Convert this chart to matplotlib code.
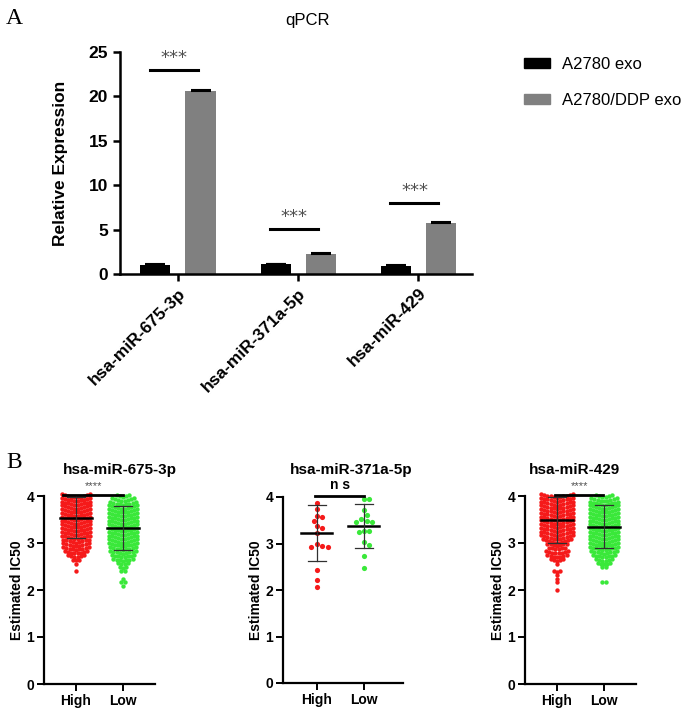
import numpy as np
import matplotlib.pyplot as plt
from matplotlib.patches import Patch

plt.rcParams['font.family'] = ['Liberation Sans', 'DejaVu Sans']

# ---- panel A: qPCR ----
mirnas = ['hsa-miR-675-3p', 'hsa-miR-371a-5p', 'hsa-miR-429']
exo = [1.05, 1.08, 0.93]
exo_err = [0.06, 0.08, 0.07]
ddp = [20.6, 2.25, 5.75]
ddp_err = [0.10, 0.10, 0.08]
sig_y = [23.0, 5.1, 8.0]

# ---- panel B: estimated IC50 ----
groups = ['High', 'Low']
# dense groups: counts of points per value row
row_vals = [4.00, 3.92, 3.84, 3.76, 3.68, 3.60, 3.52, 3.44, 3.36, 3.28, 3.20, 3.12, 3.04,
            2.96, 2.88, 2.80, 2.72, 2.64, 2.56, 2.48, 2.40, 2.32, 2.24, 2.16, 2.08, 2.00]
high_675 = [10, 10, 10, 10, 10, 10, 10, 10, 10, 10, 10, 10, 9, 9, 9, 8, 6, 3, 1, 0, 1, 0, 0, 0, 0, 0]
low_675 = [5, 8, 9, 10, 10, 10, 10, 10, 10, 10, 10, 10, 10, 10, 9, 9, 8, 7, 4, 3, 2, 0, 1, 2, 1, 0]
high_429 = [11, 11, 11, 11, 11, 11, 11, 11, 11, 11, 11, 11, 10, 7, 6, 8, 7, 5, 1, 0, 3, 1, 1, 1, 0, 1]
low_429 = [6, 9, 10, 10, 10, 10, 10, 10, 10, 10, 10, 10, 10, 10, 10, 9, 8, 6, 5, 2, 0, 0, 0, 2, 0, 0]
# sparse group: single values
high_371 = [3.88, 3.74, 3.60, 3.58, 3.49, 3.38, 3.33, 3.22, 3.00, 2.95, 2.93, 2.92, 2.42, 2.21, 2.06]
low_371 = [3.95, 3.95, 3.72, 3.61, 3.52, 3.48, 3.47, 3.46, 3.27, 3.26, 3.24, 3.04, 2.97, 2.74, 2.48]
# mean and SD lines as drawn
mean_675 = [3.54, 3.32]
sd_675 = [0.44, 0.47]
mean_371 = [3.22, 3.38]
sd_371 = [0.60, 0.475]
mean_429 = [3.49, 3.35]
sd_429 = [0.48, 0.465]

RED = '#f51a1a'
GREEN = '#3ae83a'

fig = plt.figure(figsize=(6.85, 7.12), dpi=100)

# ================= panel A =================
ax = fig.add_axes([0.1752, 0.6152, 0.514, 0.3118])
x = np.arange(len(mirnas))
w = 0.25
off = 0.1875
ax.bar(x - off, exo, w, color='black', label='A2780 exo',
       yerr=[np.zeros(3), exo_err], capsize=7, error_kw=dict(lw=1.2, capthick=1.5))
ax.bar(x + off, ddp, w, color='#808080', label='A2780/DDP exo',
       yerr=[np.zeros(3), ddp_err], capsize=7, error_kw=dict(lw=1.2, capthick=1.5))
for i in range(3):
    ax.plot([x[i] - 0.23, x[i] + 0.17], [sig_y[i], sig_y[i]], color='black', lw=2.2)
    ax.text(x[i] - 0.03, sig_y[i] + 0.3, '***', ha='center', va='bottom', fontsize=13,
            color='#505050', family='DejaVu Sans')
ax.set_xlim(-0.483, 2.45)
ax.set_ylim(0, 25)
ax.set_yticks([0, 5, 10, 15, 20, 25])
ax.set_xticks(x)
ax.set_xticklabels(mirnas, rotation=45, ha='right', va='top', rotation_mode='anchor',
                   fontsize=12.5, fontweight='bold')
for lab in ax.get_yticklabels():
    lab.set_fontweight('bold')
    lab.set_fontsize(12.5)
ax.spines['top'].set_visible(False)
ax.spines['right'].set_visible(False)
ax.spines['left'].set_linewidth(1.8)
ax.spines['bottom'].set_linewidth(1.8)
ax.tick_params(width=1.8, length=5)
ax.set_ylabel('Relative Expression', fontsize=12.5, fontweight='bold', labelpad=15)

fig.text(308 / 685, 1 - 20 / 712, 'qPCR', ha='center', va='center', fontsize=12)
handles = [Patch(color='black'), Patch(color='#808080')]
fig.legend(handles, ['A2780 exo', 'A2780/DDP exo'], loc='upper left',
           bbox_to_anchor=(524 / 685, 1 - 57 / 712), frameon=False, fontsize=12,
           handlelength=1.55, handleheight=0.6, handletextpad=0.75, labelspacing=1.25,
           borderpad=0, borderaxespad=0)

fig.text(6 / 685, 1 - 18 / 712, 'A', fontsize=17, family='Liberation Serif', va='center')
fig.text(6 / 685, 1 - 463 / 712, 'B', fontsize=17, family='Liberation Serif', va='center')


# ================= panel B =================
def rows_to_points(rows, counts, center, dx=0.068, tilt=0.25):
    xs, ys = [], []
    for v, n in zip(rows, counts):
        if n == 0:
            continue
        offs = (np.arange(n) - (n - 1) / 2) * dx
        half = (n - 1) / 2 * dx
        xs.extend(center + offs)
        ys.extend(v + tilt * (np.abs(offs) - half / 2))
    return np.array(xs), np.array(ys)


def swarm_x(vals, center, d=0.115):
    placed = []
    xs = []
    cands = [0.0]
    for k in range(1, 30):
        cands += [k * d / 2, -k * d / 2]
    for v in vals:
        for c in cands:
            if all((c - px) ** 2 + (v - py) ** 2 >= d * d for px, py in placed):
                break
        placed.append((c, v))
        xs.append(center + c)
    return np.array(xs)


def style_b(ax, xlim):
    ax.set_xlim(*xlim)
    ax.set_ylim(0, 4)
    ax.set_yticks([0, 1, 2, 3, 4])
    ax.set_xticks([0, 1])
    ax.set_xticklabels(groups, fontsize=10, fontweight='bold')
    for lab in ax.get_yticklabels():
        lab.set_fontweight('bold')
        lab.set_fontsize(10)
    ax.spines['top'].set_visible(False)
    ax.spines['right'].set_visible(False)
    ax.spines['left'].set_linewidth(1.6)
    ax.spines['bottom'].set_linewidth(1.6)
    ax.tick_params(width=1.4, length=5, pad=2)
    ax.set_ylabel('Estimated IC50', fontsize=10, fontweight='bold', labelpad=2)


def mean_sd(ax, means, sds):
    for i, (m, s) in enumerate(zip(means, sds)):
        ax.plot([i - 0.33, i + 0.33], [m, m], color='black', lw=1.8, zorder=4, clip_on=False)
        ax.plot([i, i], [m - s, m + s], color='#303030', lw=0.9, zorder=4, clip_on=False)
        for e in (m - s, m + s):
            ax.plot([i - 0.19, i + 0.19], [e, e], color='#303030', lw=0.9, zorder=4, clip_on=False)


def sig(ax, x0, x1, txt, size, color, weight):
    ax.plot([x0, x1], [4.03, 4.03], color='black', lw=2, clip_on=False)
    ax.text((x0 + x1) / 2 + 0.02, 4.1, txt, ha='center', va='bottom', fontsize=size,
            color=color, fontweight=weight)


H = 712.0
W = 685.0
bot = 1 - 684 / H
hgt = (684 - 496) / H

# hsa-miR-675-3p
ax1 = fig.add_axes([44 / W, bot, 111 / W, hgt])
for i, (cnt, col) in enumerate([(high_675, RED), (low_675, GREEN)]):
    px, py = rows_to_points(row_vals, cnt, i)
    ax1.scatter(px, py, s=10, color=col, lw=0, zorder=2, clip_on=False)
mean_sd(ax1, mean_675, sd_675)
style_b(ax1, (-0.68, 1.68))
sig(ax1, -0.28, 1.0, '****', 8, '#505050', 'normal')
fig.text(120 / W, 1 - 470 / H, 'hsa-miR-675-3p', ha='center', va='center', fontsize=11,
         fontweight='bold')

# hsa-miR-371a-5p
ax2 = fig.add_axes([283 / W, 1 - 683 / H, 120 / W, (683 - 497) / H])
for i, (vals, col) in enumerate([(high_371, RED), (low_371, GREEN)]):
    ax2.scatter(swarm_x(vals, i), vals, s=14, color=col, lw=0, zorder=2, clip_on=False)
mean_sd(ax2, mean_371, sd_371)
style_b(ax2, (-0.72, 1.83))
sig(ax2, -0.04, 1.0, 'n s', 10, 'black', 'bold')
fig.text(351 / W, 1 - 470 / H, 'hsa-miR-371a-5p', ha='center', va='center', fontsize=11,
         fontweight='bold')

# hsa-miR-429
ax3 = fig.add_axes([525 / W, bot, 111 / W, hgt])
for i, (cnt, col) in enumerate([(high_429, RED), (low_429, GREEN)]):
    px, py = rows_to_points(row_vals, cnt, i)
    ax3.scatter(px, py, s=10, color=col, lw=0, zorder=2, clip_on=False)
mean_sd(ax3, mean_429, sd_429)
style_b(ax3, (-0.68, 1.68))
sig(ax3, -0.04, 0.98, '****', 8, '#505050', 'normal')
fig.text(574 / W, 1 - 470 / H, 'hsa-miR-429', ha='center', va='center', fontsize=11,
         fontweight='bold')

fig.savefig('out.png', dpi=100)
